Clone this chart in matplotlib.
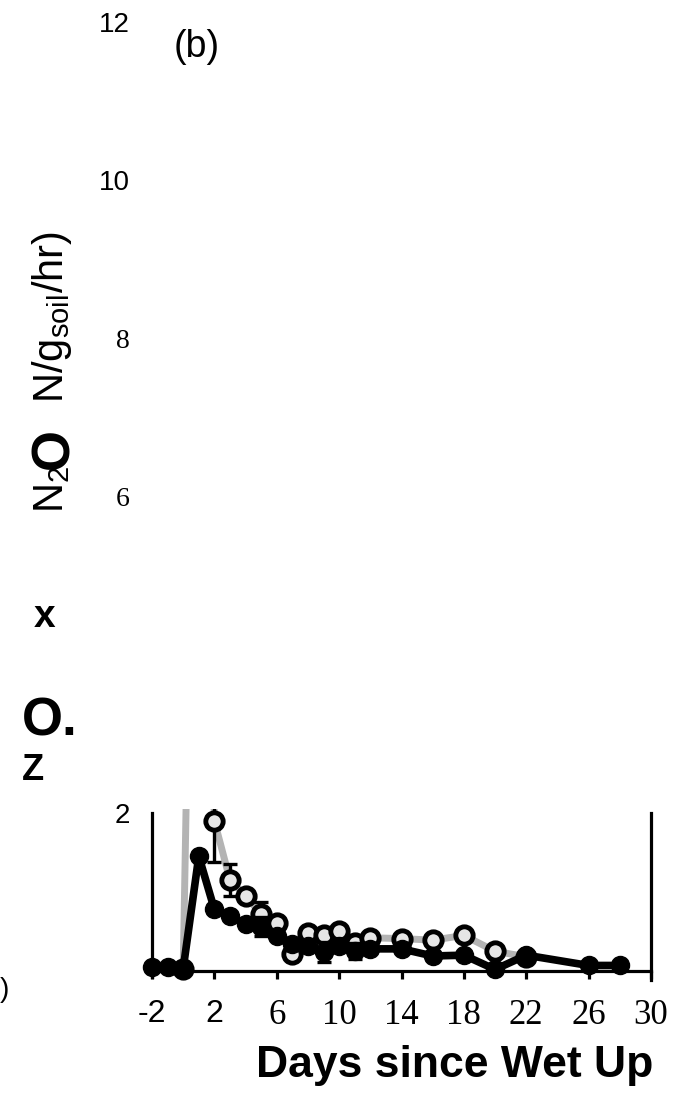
import matplotlib
matplotlib.use("Agg")
import matplotlib.pyplot as plt
from matplotlib.patches import Rectangle

# filled circles (black line)
days_filled = [-2, -1, 0, 1, 2, 3, 4, 5, 6, 7, 8, 9, 10, 11, 12, 14, 16, 18, 20, 22, 26, 28]
n2o_filled = [0.05, 0.05, 0.03, 1.45, 0.78, 0.70, 0.59, 0.56, 0.44, 0.34, 0.32, 0.24, 0.32,
              0.25, 0.28, 0.28, 0.19, 0.20, 0.02, 0.20, 0.07, 0.07]
err_filled = [0, 0, 0, 0, 0, 0, 0, 0.12, 0, 0, 0, 0.13, 0, 0.1, 0, 0, 0, 0, 0, 0, 0, 0]

# open circles (grey line); day 1 is off the visible part of the axis
days_open = [0, 1, 2, 3, 4, 5, 6, 7, 8, 9, 10, 11, 12, 14, 16, 18, 20, 22]
n2o_open = [0.03, 11.0, 1.90, 1.15, 0.95, 0.72, 0.61, 0.21, 0.48, 0.45, 0.50, 0.36, 0.42,
            0.41, 0.39, 0.45, 0.25, 0.18]
err_open = [0, 0, 0.52, 0.2, 0, 0.15, 0, 0, 0, 0, 0, 0.1, 0, 0, 0, 0, 0, 0]

xticks = [-2, 2, 6, 10, 14, 18, 22, 26, 30]
yticks = [2, 6, 8, 10, 12]

W, H = 678, 1104


def px(x, y):
    return x / W, 1 - y / H


plt.rcParams["mathtext.fontset"] = "custom"
plt.rcParams["mathtext.rm"] = "Liberation Sans"
plt.rcParams["mathtext.it"] = "Liberation Sans"

fig = plt.figure(figsize=(W / 100, H / 100), dpi=100)
left, right, top, bottom = 152, 651, 22, 971
ax = fig.add_axes([left / W, 1 - bottom / H, (right - left) / W, (bottom - top) / H])
ax.set_xlim(-2, 30)
ax.set_ylim(0, 12)

clip = Rectangle((-3, -1), 40, 3.05, transform=ax.transData)

grey, = ax.plot(days_open, n2o_open, color="#b4b4b4", lw=5, zorder=2)
openm, = ax.plot(days_open, n2o_open, ls="none", marker="o", ms=12.5, mfc="#e6e6e6",
                 mec="black", mew=3.5, zorder=2.5)
eb1 = ax.errorbar(days_open, n2o_open, yerr=err_open, fmt="none", ecolor="black",
                  elinewidth=2.4, capsize=5, capthick=2.4, zorder=2.4)
black, = ax.plot(days_filled, n2o_filled, color="black", lw=5.5, marker="o", ms=13,
                 zorder=3)
eb2 = ax.errorbar(days_filled, n2o_filled, yerr=err_filled, fmt="none", ecolor="black",
                  elinewidth=2.4, capsize=5, capthick=2.4, zorder=3)
for art in [grey, openm, black]:
    art.set_clip_path(clip)
for eb in [eb1, eb2]:
    for c in eb.get_children():
        c.set_clip_path(clip)

ax.spines["top"].set_visible(False)
ax.spines["left"].set_bounds(-0.07, 2)
ax.spines["right"].set_bounds(-0.11, 2)
for s in ["left", "right", "bottom"]:
    ax.spines[s].set_linewidth(2.3)

ax.set_xticks(xticks)
ax.set_xticklabels([str(t) for t in xticks])
ax.tick_params(axis="x", direction="out", length=6, width=2.3, pad=14, labelsize=25)
for i, lab in enumerate(ax.get_xticklabels()):
    lab.set_fontfamily("Liberation Sans" if i < 2 else "Liberation Serif")
    if i < 2:
        lab.set_fontsize(23)

ax.set_yticks(yticks)
ax.set_yticklabels([str(t) for t in yticks])
ax.tick_params(axis="y", which="major", length=0, pad=16, labelsize=20)
for t, lab in zip(yticks, ax.get_yticklabels()):
    lab.set_fontfamily("Liberation Serif" if t in (6, 8) else "Liberation Sans")
ax.set_yticks([2], minor=True)
ax.tick_params(axis="y", which="minor", direction="in", length=5, width=2.3)
ax.tick_params(right=False)

# panel label and scraps of the original (scanned) y label
fig.text(*px(197, 47), "(b)", fontsize=27, family="Liberation Sans", ha="center", va="center")
fig.text(*px(45, 617), "x", fontsize=28, fontweight="bold", family="Liberation Sans",
         ha="center", va="center")
fig.text(*px(50, 722), "O.", fontsize=38, fontweight="bold", family="Liberation Sans",
         ha="center", va="center")
fig.text(*px(33, 770), "Z", fontsize=26, fontweight="bold", family="Liberation Sans",
         ha="center", va="center")
fig.text(*px(4, 990), ")", fontsize=20, family="Liberation Sans", ha="center", va="center")

# y label pieces (rotated)
fig.text(*px(63, 513), "N$_2$", fontsize=30, family="Liberation Sans", rotation=90,
         rotation_mode="anchor", ha="left", va="baseline")
fig.text(*px(68, 469), "O", fontsize=38, fontweight="bold", family="Liberation Sans",
         rotation=90, rotation_mode="anchor", ha="left", va="baseline")
fig.text(*px(63, 403), "N/g$_{\\mathrm{soil}}$/hr)", fontsize=30, family="Liberation Sans",
         rotation=90, rotation_mode="anchor", ha="left", va="baseline")

fig.text(*px(455, 1065), "Days since Wet Up", fontsize=32, fontweight="bold",
         family="Liberation Sans", ha="center", va="center")

fig.savefig("out.png", dpi=100)
